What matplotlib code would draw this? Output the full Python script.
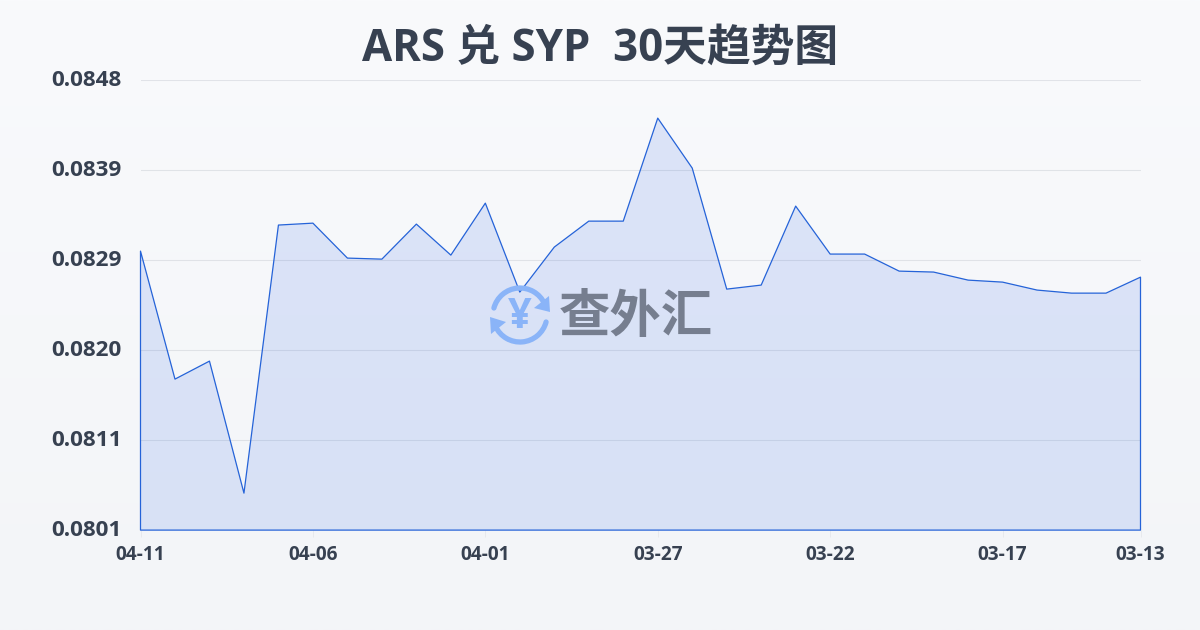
import numpy as np
import matplotlib
matplotlib.use('Agg')
import matplotlib.pyplot as plt
from matplotlib.patches import Arc, Polygon
from matplotlib.transforms import ScaledTranslation

plt.rcParams['font.family'] = ['Open Sans', 'Noto Sans CJK SC', 'DejaVu Sans']

# data, newest date first
dates = ['04-11', '04-10', '04-09', '04-08', '04-07', '04-06', '04-05', '04-04', '04-03', '04-02',
         '04-01', '03-31', '03-30', '03-29', '03-28', '03-27', '03-26', '03-25', '03-24', '03-23',
         '03-22', '03-21', '03-20', '03-19', '03-18', '03-17', '03-16', '03-15', '03-14', '03-13']
rates = [0.083014, 0.081677, 0.081865, 0.080486, 0.083286, 0.083306, 0.082941, 0.082930, 0.083296, 0.082972,
         0.083515, 0.082586, 0.083056, 0.083327, 0.083327, 0.084403, 0.083881, 0.082617, 0.082659, 0.083484,
         0.082983, 0.082983, 0.082805, 0.082795, 0.082711, 0.082690, 0.082607, 0.082575, 0.082575, 0.082742]
y_ticks = [0.0801, 0.08104, 0.08198, 0.08292, 0.08386, 0.0848]
y_labels = ['0.0801', '0.0811', '0.0820', '0.0829', '0.0839', '0.0848']
x_tick_idx = [0, 5, 10, 15, 20, 25, 29]

title = 'ARS 兑 SYP  30天趋势图'
text_color = '#374151'
line_color = '#2563d8'

fig = plt.figure(figsize=(12, 6.3), dpi=100)

# background gradient
bg = fig.add_axes([0, 0, 1, 1], zorder=0)
bg.imshow(np.linspace(0, 1, 256).reshape(-1, 1), aspect='auto', extent=[0, 1, 0, 1],
          cmap=matplotlib.colors.LinearSegmentedColormap.from_list('bg', ['#f9fafc', '#f3f5f8']))
bg.axis('off')

# main chart
ax = fig.add_axes([140.5 / 1200, 99.9 / 630, 1000 / 1200, 450 / 630], zorder=1)
ax.patch.set_alpha(0)
x = np.arange(len(rates))
ax.fill_between(x, rates, y_ticks[0], facecolor='#3b6fe6', alpha=0.15, linewidth=0, zorder=2)
ax.fill_between(x, rates, y_ticks[0], facecolor='none', edgecolor=line_color, linewidth=0.9, zorder=4, clip_on=False)
ax.set_xlim(0, len(rates) - 1)
ax.set_ylim(y_ticks[0], y_ticks[-1])
ax.set_yticks(y_ticks)
ax.set_yticklabels(y_labels, fontsize=16.2, fontweight='bold', color=text_color)
ax.set_xticks(x_tick_idx)
ax.set_xticklabels([dates[i] for i in x_tick_idx], fontsize=13.7, fontweight='bold', color=text_color)
ax.tick_params(axis='y', length=0, pad=13.5)
ax.tick_params(axis='x', length=5, width=0.6, color='#e5e7eb', pad=5.5)
for lab in ax.get_yticklabels():
    lab.set_transform(lab.get_transform() + ScaledTranslation(0, 2.5 / 100, fig.dpi_scale_trans))
ax.grid(axis='y', color='#1f2a44', alpha=0.1, linewidth=0.8, zorder=1)
ax.set_axisbelow(True)
for s in ax.spines.values():
    s.set_visible(False)

fig.text(0.5, 1 - 49 / 630, title, ha='center', va='center', fontsize=31.5, fontweight='bold', color=text_color)

# watermark, pixel coordinates
wm = fig.add_axes([0, 0, 1, 1], zorder=3)
wm.set_xlim(0, 1200)
wm.set_ylim(630, 0)
wm.axis('off')
icon = '#8ab4f8'
wm.add_patch(Arc((520, 315), 54, 54, theta1=195, theta2=335, color=icon, lw=3.8, capstyle='round'))
wm.add_patch(Arc((520, 315), 54, 54, theta1=15, theta2=155, color=icon, lw=3.8, capstyle='round'))
wm.add_patch(Polygon([[549, 296], [550, 312], [534, 308]], closed=True, color=icon, lw=0))
wm.add_patch(Polygon([[491, 334], [490, 317], [506, 322]], closed=True, color=icon, lw=0))
wm.text(520, 317, '¥', ha='center', va='center', fontsize=30, fontweight='bold', color=icon)
wm.text(636, 319, '查外汇', ha='center', va='center', fontsize=37, fontweight='bold', color='#767e8f')

fig.savefig('out.png', dpi=100)
